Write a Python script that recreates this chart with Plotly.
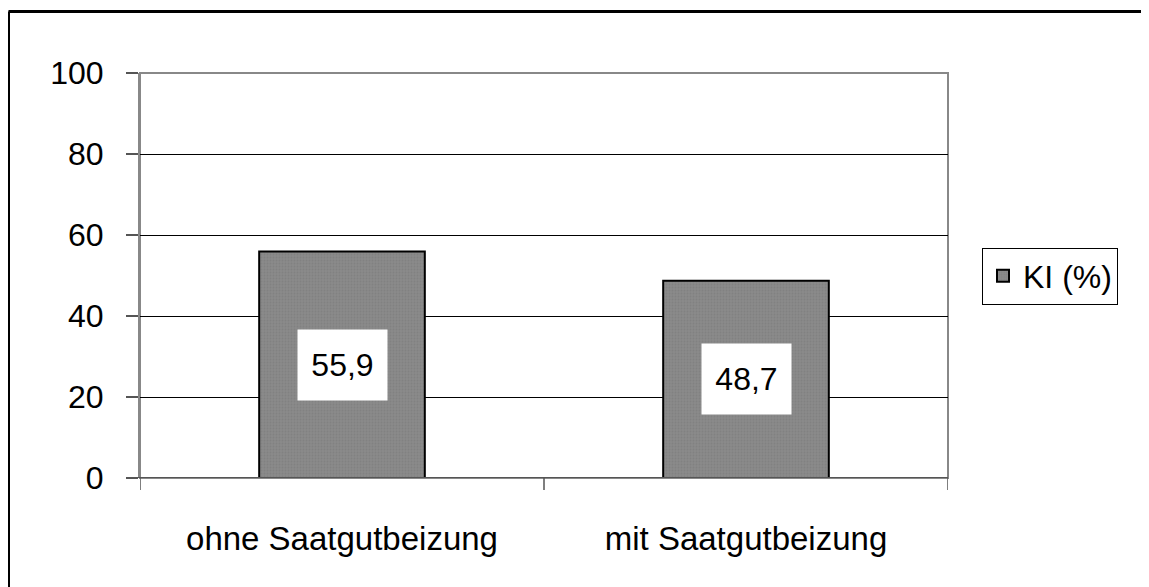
import plotly.graph_objects as go

categories = ["ohne Saatgutbeizung", "mit Saatgutbeizung"]
values = [55.9, 48.7]
value_labels = ["55,9", "48,7"]
series_name = "KI (%)"
y_ticks = [0, 20, 40, 60, 80, 100]

# page has an 8px body margin; reference pixel coordinates are shifted by OFF
OFF = 8
W, H = 1141, 579
L, T = 140 - OFF, 73 - OFF
R, B = W - (948 - OFF), H - (478 - OFF)
pw, ph = W - L - R, H - T - B

def px_x(x):
    return (x - OFF - L) / pw

def px_y(y):
    return (H - B - (y - OFF)) / ph

FONT = "Liberation Sans, Arial, sans-serif"

fig = go.Figure()
fig.add_trace(go.Bar(
    x=[0, 1], y=values, name=series_name,
    width=0.41,
    marker=dict(color="#838383", line=dict(color="black", width=2),
                pattern=dict(shape=".", size=3, solidity=0.3, fgcolor="#777777", bgcolor="#8a8a8a")),
    showlegend=True,
))

for i, (v, t) in enumerate(zip(values, value_labels)):
    fig.add_annotation(x=i, y=v / 2, text=t, showarrow=False,
                       font=dict(size=32, color="black", family=FONT),
                       bgcolor="white", borderpad=2, width=85, height=66,
                       xref="x", yref="y")

fig.update_layout(
    width=W, height=H,
    margin=dict(l=L, r=R, t=T, b=B, autoexpand=False),
    paper_bgcolor="white", plot_bgcolor="white",
    font=dict(family=FONT, size=32, color="black"),
    legend=dict(x=px_x(982), y=px_y(276), xanchor="left", yanchor="middle",
                bordercolor="black", borderwidth=1, bgcolor="white",
                font=dict(size=32, family=FONT)),
    shapes=[
        dict(type="line", xref="paper", yref="paper", x0=px_x(8.5), x1=px_x(1170),
             y0=px_y(11.5), y1=px_y(11.5), line=dict(color="black", width=3)),
        dict(type="line", xref="paper", yref="paper", x0=px_x(8.5), x1=px_x(8.5),
             y0=px_y(11.5), y1=px_y(620), line=dict(color="black", width=3)),
        dict(type="rect", xref="paper", yref="paper", x0=0, x1=1, y0=0, y1=1,
             line=dict(color="#888888", width=2), layer="below"),
    ],
)

fig.update_xaxes(range=[-0.5, 1.5], tickvals=[0, 1], ticktext=categories,
                 showgrid=False, zeroline=False,
                 showline=False, ticks="", ticklen=0, ticklabelstandoff=38,
                 tickfont=dict(size=33, family=FONT), fixedrange=True)
# category boundary tick marks
for xb in [-0.5, 0.5, 1.5]:
    fig.add_shape(type="line", xref="x", yref="paper", x0=xb, x1=xb,
                  y0=0, y1=px_y(490), line=dict(color="#555555", width=1.5))

fig.update_yaxes(range=[0, 100], tickvals=y_ticks,
                 showgrid=True, gridcolor="black", gridwidth=1,
                 zeroline=False, showline=True, linecolor="#888888", linewidth=2,
                 ticks="outside", ticklen=12, tickcolor="#555555", tickwidth=1.5,
                 ticklabelstandoff=16,
                 tickfont=dict(size=32, family=FONT), fixedrange=True)
fig.add_shape(type="line", xref="paper", yref="y", x0=px_x(128), x1=1, y0=0, y1=0,
              line=dict(color="#555555", width=2))

fig.write_html("out.html")
